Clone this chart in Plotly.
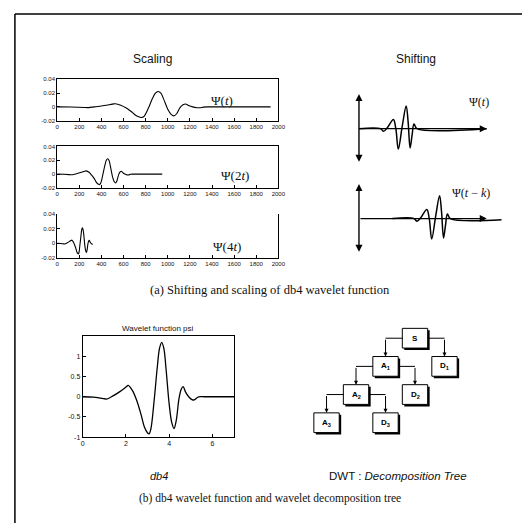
import plotly.graph_objects as go

W, H = 530, 523

# ---------------- data ----------------
scale_xticks = [0, 200, 400, 600, 800, 1000, 1200, 1400, 1600, 1800, 2000]
scale_yticks = [-0.02, 0, 0.02, 0.04]
scale_yticktext = ["-0.02", "0", "0.02", "0.04"]

# Psi(t)
psi1_x = [0, 125, 250, 275, 350, 425, 500, 525, 575, 625, 675, 712, 750, 768, 788, 825, 862, 888, 912, 938,
          962, 1000, 1030, 1055, 1080, 1112, 1138, 1160, 1188, 1225, 1262, 1288, 1325, 1362, 1400, 1600, 1930]
psi1_y = [0, -0.0002, -0.0008, -0.001, 0.0003, 0.002, 0.004, 0.0046, 0.0025, -0.0017, -0.0074, -0.0124,
          -0.0149, -0.0152, -0.0132, -0.0017, 0.0124, 0.0198, 0.0223, 0.0198, 0.0116, -0.0033, -0.0107,
          -0.013, -0.0099, -0.0008, 0.003, 0.0041, 0.002, 0.0, -0.0012, -0.0013, -0.0003, 0.0, 0.0, 0.0, 0.0]
# Psi(2t)
psi2_x = [0, 62, 125, 138, 175, 212, 250, 262, 288, 312, 338, 356, 375, 384, 394, 412, 431, 444, 456, 469,
          481, 500, 515, 528, 540, 556, 569, 580, 594, 612, 631, 644, 662, 681, 700, 800, 950]
psi2_y = [0, -0.0002, -0.0009, -0.001, 0.0005, 0.0022, 0.0042, 0.0047, 0.0026, -0.0016, -0.0072, -0.0122,
          -0.0148, -0.0151, -0.013, -0.0015, 0.0125, 0.0199, 0.0222, 0.0196, 0.0114, -0.0035, -0.0106,
          -0.0128, -0.0097, -0.0007, 0.0031, 0.0042, 0.002, 0.0001, -0.0011, -0.0012, -0.0003, 0.0, 0.0, 0.0, 0.0]
# Psi(4t)
psi3_x = [0, 31, 62, 69, 88, 106, 125, 131, 144, 156, 169, 178, 188, 192, 197, 206, 216, 222, 228, 234,
          241, 250, 258, 264, 270, 278, 284, 290, 297, 306, 316, 322]
psi3_y = [0, -0.0002, -0.0008, -0.001, 0.0003, 0.0019, 0.0037, 0.0043, 0.0023, -0.0016, -0.007, -0.0116,
          -0.014, -0.0143, -0.0124, -0.0016, 0.0116, 0.0186, 0.021, 0.0186, 0.0109, -0.0031, -0.0101,
          -0.0122, -0.0093, -0.0008, 0.0028, 0.0039, 0.0019, 0.0, -0.0011, -0.0012]

# shifting sketch wavelet
shift_t = [0, 2.2, 2.5, 2.9, 3.5, 3.75, 4.0, 4.4, 4.8, 5.0, 5.2, 5.4, 5.6, 5.9, 13]
shift_v = [0, 0, -0.12, 0.05, 0.4, 0.0, -0.9, 0.1, 1.0, 0.3, -0.85, -0.3, 0.2, 0, 0]
shift_k = 3.4

# db4 wavelet function psi
db4_t = [0, 0.5, 1.0, 1.1, 1.4, 1.7, 2.0, 2.1, 2.3, 2.5, 2.7, 2.85, 3.0, 3.07, 3.15, 3.3, 3.45, 3.55, 3.65,
         3.75, 3.85, 4.0, 4.12, 4.22, 4.32, 4.45, 4.55, 4.64, 4.75, 4.9, 5.05, 5.15, 5.3, 5.45, 5.6, 6.0, 7.0]
db4_psi = [0, -0.01, -0.05, -0.06, 0.02, 0.12, 0.24, 0.28, 0.15, -0.1, -0.45, -0.75, -0.9, -0.92, -0.8, -0.1,
           0.75, 1.2, 1.35, 1.2, 0.7, -0.2, -0.65, -0.79, -0.6, -0.05, 0.18, 0.25, 0.12, 0.0, -0.07, -0.08,
           -0.02, 0.0, 0.0, 0.0, 0.0]
db4_xticks = [0, 2, 4, 6]
db4_yticks = [-1, -0.5, 0, 0.5, 1]
db4_yticktext = ["-1", "-0.5", "0", "0.5", "1"]

# decomposition tree
tree_nodes = ["S", "A1", "D1", "A2", "D2", "A3", "D3"]
tree_labels = ["S", "A<sub>1</sub>", "D<sub>1</sub>", "A<sub>2</sub>", "D<sub>2</sub>", "A<sub>3</sub>", "D<sub>3</sub>"]
tree_parent = [None, "S", "S", "A1", "A1", "A2", "A2"]


# ---------------- helpers ----------------
def fx(p):
    return p / W


def fy(p):
    return 1 - p / H


fig = go.Figure()
LINE = dict(color="black", width=1.1)

fig.add_trace(go.Scatter(x=psi1_x, y=psi1_y, mode="lines", line=dict(shape="spline", **LINE), xaxis="x", yaxis="y"))
fig.add_trace(go.Scatter(x=psi2_x, y=psi2_y, mode="lines", line=dict(shape="spline", **LINE), xaxis="x2", yaxis="y2"))
fig.add_trace(go.Scatter(x=psi3_x, y=psi3_y, mode="lines", line=dict(shape="spline", **LINE), xaxis="x3", yaxis="y3"))

fig.add_trace(go.Scatter(x=shift_t, y=shift_v, mode="lines", line=dict(shape="spline", color="black", width=1.5),
                         xaxis="x4", yaxis="y4"))
fig.add_trace(go.Scatter(x=[t + shift_k for t in shift_t], y=shift_v, mode="lines",
                         line=dict(shape="spline", color="black", width=1.5), xaxis="x5", yaxis="y5"))

fig.add_trace(go.Scatter(x=db4_t, y=db4_psi, mode="lines", line=dict(shape="spline", color="black", width=1.3),
                         xaxis="x6", yaxis="y6"))

tickfont = dict(family="Liberation Sans, Arial", size=6, color="#111")
ax_common = dict(showgrid=False, zeroline=False, showline=True, linecolor="black", linewidth=1,
                 ticks="inside", ticklen=3, tickcolor="black", tickfont=tickfont)

sx = [fx(48), fx(273)]
panels = [(69, 111), (137, 179), (205, 250)]
for i, (top, bot) in enumerate(panels):
    n = "" if i == 0 else str(i + 1)
    mirror = True if i < 2 else False
    fig.layout["xaxis" + n] = dict(domain=sx, anchor="y" + n, range=[0, 2000], tickvals=scale_xticks,
                                   mirror=mirror, **ax_common)
    fig.layout["yaxis" + n] = dict(domain=[fy(bot), fy(top)], anchor="x" + n, range=[-0.02, 0.04],
                                   tickvals=scale_yticks, ticktext=scale_yticktext, mirror=True, **ax_common)

hidden = dict(visible=False, showgrid=False, zeroline=False)
# shifting axes: t=0 at px 355, 10 px/unit
fig.layout["xaxis4"] = dict(domain=[fx(345), fx(500)], anchor="y4", range=[-1.0, 14.5], **hidden)
fig.layout["yaxis4"] = dict(domain=[fy(155), fy(83)], anchor="x4", range=[-1.565, 1.565], **hidden)
fig.layout["xaxis5"] = dict(domain=[fx(345), fx(500)], anchor="y5", range=[-1.0, 14.5], **hidden)
fig.layout["yaxis5"] = dict(domain=[fy(246), fy(174)], anchor="x5", range=[-1.565, 1.565], **hidden)

db4_font = dict(family="Liberation Sans, Arial", size=7, color="#111")
fig.layout["xaxis6"] = dict(domain=[fx(74), fx(228)], anchor="y6", range=[0, 7], tickvals=db4_xticks,
                            mirror=True, **{**ax_common, "tickfont": db4_font})
fig.layout["yaxis6"] = dict(domain=[fy(431), fy(329)], anchor="x6", range=[-1, 1.5], tickvals=db4_yticks,
                            ticktext=db4_yticktext, mirror=True, **{**ax_common, "tickfont": db4_font})

# tree axes: S at (0,0) -> px (412, 331); 30 px per x unit, 28.5 px per y unit
fig.layout["xaxis7"] = dict(domain=[fx(300), fx(480)], anchor="y7", range=[-112 / 30, 68 / 30], **hidden)
fig.layout["yaxis7"] = dict(domain=[fy(435), fy(315)], anchor="x7", range=[-104 / 28.5, 16 / 28.5], **hidden)

annotations = []
shapes = []


def ptext(x, y, text, size, family="Liberation Sans, Arial", **kw):
    annotations.append(dict(x=fx(x), y=fy(y), xref="paper", yref="paper", text=text, showarrow=False,
                            xanchor="center", yanchor="middle", font=dict(family=family, size=size, color="#111"), **kw))


ptext(145, 49, "Scaling", 12)
ptext(413, 49, "Shifting", 12)
serif = "Liberation Serif, Times New Roman"
ptext(216, 91, "Ψ(<i>t</i>)", 13, serif)
ptext(229, 166, "Ψ(2<i>t</i>)", 13, serif)
ptext(221, 238, "Ψ(4<i>t</i>)", 13, serif)
ptext(477, 92, "Ψ(<i>t</i>)", 12, serif)
ptext(469, 184, "Ψ(<i>t</i> − <i>k</i>)", 12, serif)
ptext(264, 282, "(a) Shifting and scaling of db4 wavelet function", 12.5, serif)
ptext(151, 321, "Wavelet function psi", 8)
ptext(152, 470, "<i>db4</i>", 11)
ptext(395, 470, "DWT : <i>Decomposition Tree</i>", 11.5)
ptext(264, 493, "(b) db4 wavelet function and wavelet decomposition tree", 11.5, serif)

# shifting arrows
for a in ("4", "5"):
    annotations.append(dict(x=13.0, y=0, ax=0, ay=0, xref="x" + a, yref="y" + a, axref="x" + a, ayref="y" + a,
                            showarrow=True, arrowhead=2, arrowsize=1, arrowwidth=1.4, arrowcolor="black", text=""))
    annotations.append(dict(x=0, y=1.52, ax=0, ay=-1.52, xref="x" + a, yref="y" + a, axref="x" + a, ayref="y" + a,
                            showarrow=True, arrowhead=2, arrowside="end+start", arrowsize=1, arrowwidth=1.4,
                            arrowcolor="black", text=""))

# tree
pos = {}
for name in tree_nodes:
    lvl = 0 if name == "S" else int(name[1:])
    if name == "S":
        pos[name] = (0, 0)
    elif name[0] == "A":
        pos[name] = (-lvl, -lvl)
    else:
        pos[name] = (2 - lvl, -lvl)
bw, bh = 0.86, 0.70
ox, oy = 2 / 30, 2 / 28.5
for name, label, parent in zip(tree_nodes, tree_labels, tree_parent):
    x, y = pos[name]
    shapes.append(dict(type="rect", xref="x7", yref="y7", x0=x - bw / 2 + ox, x1=x + bw / 2 + ox,
                       y0=y - bh / 2 - oy, y1=y + bh / 2 - oy, fillcolor="black", line=dict(width=0)))
    shapes.append(dict(type="rect", xref="x7", yref="y7", x0=x - bw / 2, x1=x + bw / 2,
                       y0=y - bh / 2, y1=y + bh / 2, fillcolor="white", line=dict(color="black", width=1)))
    annotations.append(dict(x=x, y=y, xref="x7", yref="y7", text="<b>" + label + "</b>", showarrow=False,
                            font=dict(family="Liberation Sans, Arial", size=8, color="black")))
    if parent:
        px_, py_ = pos[parent]
        edge = px_ - bw / 2 if name[0] == "A" else px_ + bw / 2
        shapes.append(dict(type="line", xref="x7", yref="y7", x0=edge, x1=x, y0=py_, y1=py_,
                           line=dict(color="black", width=1)))
        annotations.append(dict(x=x, y=y + bh / 2, ax=x, ay=py_, xref="x7", yref="y7", axref="x7", ayref="y7",
                                showarrow=True, arrowhead=2, arrowsize=0.8, arrowwidth=1, arrowcolor="black", text=""))

# outer frame
for (x0, y0, x1, y1) in [(5, 3, 527, 3), (5, 3, 5, 521), (5, 521, 527, 521), (527, 3, 527, 521)]:
    shapes.append(dict(type="line", xref="paper", yref="paper", x0=fx(x0), y0=fy(y0), x1=fx(x1), y1=fy(y1),
                       line=dict(color="black", width=1.5)))

fig.update_layout(width=W, height=H, margin=dict(l=0, r=0, t=0, b=0), showlegend=False,
                  paper_bgcolor="white", plot_bgcolor="white", annotations=annotations, shapes=shapes)

fig.write_html("out.html")
